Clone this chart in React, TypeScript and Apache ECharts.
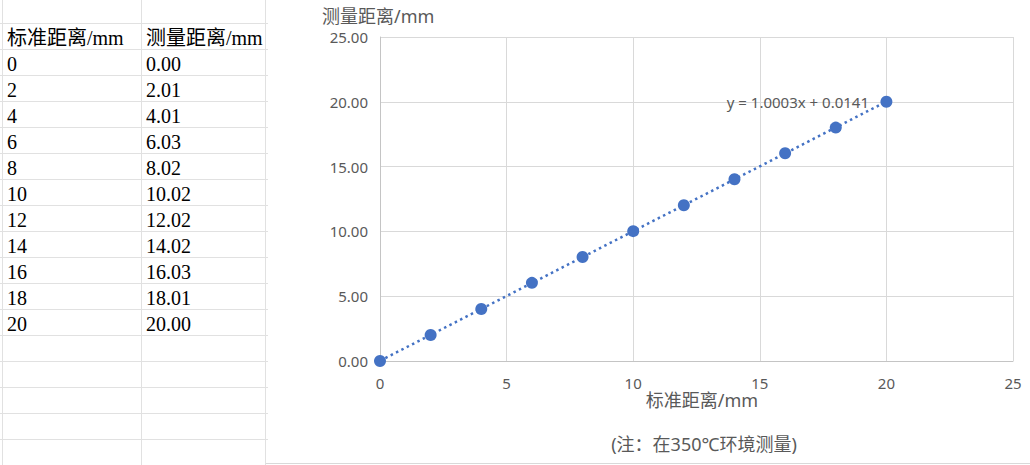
import React, { useEffect, useRef } from "react";
import * as echarts from "echarts";

const HEADERS = ["标准距离/mm", "测量距离/mm"];
const STANDARD = [0, 2, 4, 6, 8, 10, 12, 14, 16, 18, 20];
const MEASURED = [0.0, 2.01, 4.01, 6.03, 8.02, 10.02, 12.02, 14.02, 16.03, 18.01, 20.0];
const TREND_SLOPE = 1.0003;
const TREND_INTERCEPT = 0.0141;
const X_AXIS_TITLE = "标准距离/mm";
const Y_AXIS_TITLE = "测量距离/mm";
const NOTE = "(注：在350℃环境测量)";

const W = 1030;
const H = 465;
const CJK = "'Noto Sans', 'Noto Sans CJK SC', sans-serif";
const SERIF = "'Liberation Serif', 'Noto Sans CJK SC', serif";
const GRID = "#d9d9d9";
const AXIS = "#c4c4c4";
const TXT = "#595959";
const BLUE = "#4472C4";

export default function App() {
  const ref = useRef<HTMLDivElement>(null);
  useEffect(() => {
    if (!ref.current) return;
    const chart = echarts.init(ref.current, undefined, { renderer: "svg" });

    const graphics: any[] = [];
    // spreadsheet grid
    const colX = [2.5, 141.5, 265.5];
    colX.forEach((x) =>
      graphics.push({ type: "line", shape: { x1: x, y1: 0, x2: x, y2: H }, style: { stroke: "#e1e1e1", lineWidth: 1 }, silent: true })
    );
    for (let y = 23.5; y < H; y += 26) {
      graphics.push({ type: "line", shape: { x1: 0, y1: y, x2: 268, y2: y }, style: { stroke: "#e1e1e1", lineWidth: 1 }, silent: true });
    }
    // chart area bottom border
    graphics.push({ type: "line", shape: { x1: 266, y1: 463.5, x2: W, y2: 463.5 }, style: { stroke: GRID, lineWidth: 1 }, silent: true });
    // table text
    const textCols = [7, 146];
    HEADERS.forEach((h, i) =>
      graphics.push({
        type: "text",
        x: textCols[i],
        y: 23 + 15,
        style: { text: h, fill: "#000", font: `20px ${SERIF}`, verticalAlign: "middle", align: "left" },
      })
    );
    STANDARD.forEach((v, k) => {
      const yc = 49 + 26 * k + 15;
      graphics.push({
        type: "text",
        x: textCols[0],
        y: yc,
        style: { text: String(v), fill: "#000", font: `20px ${SERIF}`, verticalAlign: "middle", align: "left" },
      });
      graphics.push({
        type: "text",
        x: textCols[1],
        y: yc,
        style: { text: MEASURED[k].toFixed(2), fill: "#000", font: `20px ${SERIF}`, verticalAlign: "middle", align: "left" },
      });
    });
    // chart titles
    graphics.push({
      type: "text",
      x: 322,
      y: 16,
      style: { text: Y_AXIS_TITLE, fill: TXT, font: `18px ${CJK}`, verticalAlign: "middle", align: "left" },
    });
    graphics.push({
      type: "text",
      x: 702,
      y: 400,
      style: { text: X_AXIS_TITLE, fill: TXT, font: `18px ${CJK}`, verticalAlign: "middle", align: "center" },
    });
    graphics.push({
      type: "text",
      x: 704,
      y: 444,
      style: { text: NOTE, fill: TXT, font: `18px ${CJK}`, verticalAlign: "middle", align: "center" },
    });
    graphics.push({
      type: "text",
      x: 869,
      y: 102,
      z: 10,
      style: {
        text: `y = ${TREND_SLOPE.toFixed(4)}x + ${TREND_INTERCEPT.toFixed(4)}`,
        fill: TXT,
        font: `15px ${CJK}`,
        verticalAlign: "middle",
        align: "right",
      },
    });

    const xMin = STANDARD[0];
    const xMax = STANDARD[STANDARD.length - 1];
    const trend = [
      [xMin, TREND_SLOPE * xMin + TREND_INTERCEPT],
      [xMax, TREND_SLOPE * xMax + TREND_INTERCEPT],
    ];

    chart.setOption({
      animation: false,
      grid: { left: 380, right: W - 1013, top: 37, bottom: H - 361, containLabel: false },
      xAxis: {
        type: "value",
        min: 0,
        max: 25,
        interval: 5,
        axisLine: { show: true, lineStyle: { color: AXIS, width: 1 } },
        axisTick: { show: false },
        axisLabel: { color: TXT, fontSize: 15, margin: 14, fontFamily: CJK },
        splitLine: { show: true, lineStyle: { color: GRID, width: 1 } },
      },
      yAxis: {
        type: "value",
        min: 0,
        max: 25,
        interval: 5,
        axisLine: { show: true, lineStyle: { color: AXIS, width: 1 } },
        axisTick: { show: false },
        axisLabel: { color: TXT, fontSize: 15, margin: 12, fontFamily: CJK, formatter: (v: number) => v.toFixed(2) },
        splitLine: { show: true, lineStyle: { color: GRID, width: 1 } },
      },
      series: [
        {
          type: "line",
          data: trend,
          showSymbol: false,
          silent: true,
          z: 2,
          lineStyle: { color: BLUE, width: 2.5, type: [2.5, 3.5] },
        },
        {
          type: "scatter",
          data: STANDARD.map((x, i) => [x, MEASURED[i]]),
          symbolSize: 12,
          z: 3,
          itemStyle: { color: BLUE, opacity: 1 },
        },
      ],
      graphic: graphics,
    });
    return () => chart.dispose();
  }, []);

  return (
    <div
      ref={ref}
      style={{ position: "absolute", left: 0, top: 0, width: W, height: H, background: "#fff" }}
    />
  );
}
